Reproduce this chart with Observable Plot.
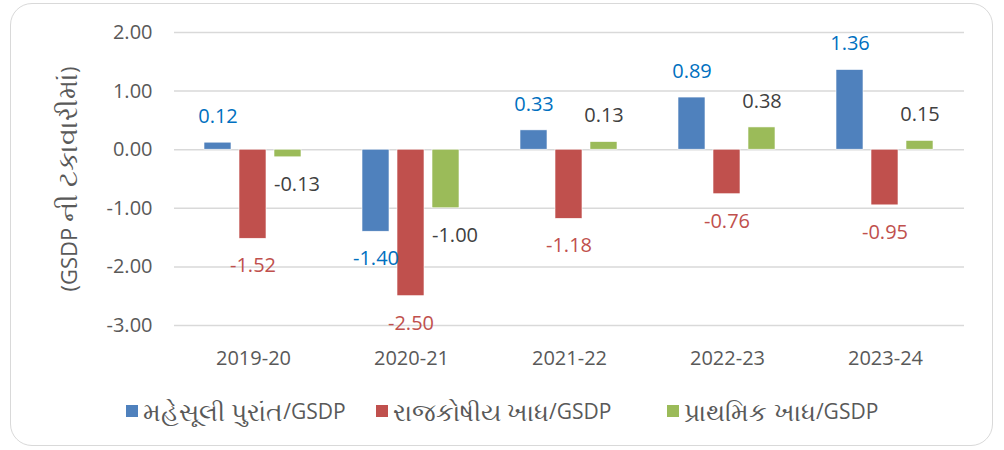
<!DOCTYPE html>
<html>
<head>
<meta charset="utf-8">
<script src="https://cdn.jsdelivr.net/npm/d3@7"></script>
<script src="https://cdn.jsdelivr.net/npm/@observablehq/plot@0.6"></script>
<style>
  body { margin: 0; background: #fff; font-family: "Open Sans", "Noto Sans", sans-serif; }
  #wrap { position: relative; width: 1004px; height: 450px; overflow: hidden; }
  #frame { position: absolute; left: 10px; top: 3px; width: 983px; height: 443px; border: 1.5px solid #d9d9d9; border-radius: 22px; box-sizing: border-box; }
  #chart { position: absolute; left: 0; top: 0; }
  #legend { position: absolute; left: 0; top: 394px; width: 1004px; display: flex; justify-content: center; font-size: 21px; color: #595959; line-height: 34px; }
  .item { display: flex; align-items: center; }
  .item:nth-child(1) { margin-right: 30px; }
  .item:nth-child(2) { margin-right: 56px; }
  .sw { width: 12px; height: 12px; display: inline-block; margin-right: 5px; }
  .guj { font-size: 25px; }
</style>
</head>
<body>
<div id="wrap">
  <div id="frame"></div>
  <div id="chart"></div>
  <div id="legend"></div>
</div>
<script>
const years = ["2019-20", "2020-21", "2021-22", "2022-23", "2023-24"];
const seriesNames = ["મહેસૂલી પુરાંત/GSDP", "રાજકોષીય ખાધ/GSDP", "પ્રાથમિક ખાધ/GSDP"];
const revenueSurplus = [0.12, -1.40, 0.33, 0.89, 1.36];
const fiscalDeficit = [-1.52, -2.50, -1.18, -0.76, -0.95];
const primaryDeficit = [-0.13, -1.00, 0.13, 0.38, 0.15];
const yTicks = [2, 1, 0, -1, -2, -3];
const yTitle = "(GSDP ની ટકાવારીમાં)";
const barColors = ["#4F81BD", "#C0504D", "#9BBB59"];
const labelColors = ["#0070C0", "#C0504D", "#404040"];

const seriesValues = [revenueSurplus, fiscalDeficit, primaryDeficit];
const rows = [];
years.forEach((year, i) => {
  seriesNames.forEach((s, j) => {
    rows.push({year, series: s, idx: j, value: seriesValues[j][i]});
  });
});

// split text into runs of Gujarati script (with inner spaces) and other characters
function runs(str) {
  const out = [];
  const re = /([\u0A80-\u0AFF][\u0A80-\u0AFF\s]*[\u0A80-\u0AFF]|[\u0A80-\u0AFF])|([^\u0A80-\u0AFF]+)/g;
  let m;
  while ((m = re.exec(str))) out.push({text: m[0], guj: !!m[1]});
  return out;
}

const fontFamily = '"Open Sans", "Noto Sans", sans-serif';
const lab = (d) => d.value.toFixed(2);

const chart = Plot.plot({
  width: 1004,
  height: 385,
  marginLeft: 172,
  marginRight: 38,
  marginTop: 32,
  marginBottom: 60,
  style: { fontFamily, fontSize: "20px", color: "#595959", background: "transparent" },
  fx: { domain: years, padding: 0, label: null, axis: "bottom", tickSize: 0, tickPadding: 25 },
  x: { domain: seriesNames, paddingInner: 0.223, paddingOuter: 0.854, axis: null },
  y: {
    domain: [-3, 2], ticks: yTicks, tickFormat: d => d.toFixed(2), tickSize: 0, tickPadding: 22,
    label: yTitle, labelAnchor: "center", labelArrow: "none", labelOffset: 112
  },
  color: { type: "identity" },
  marks: [
    Plot.gridY(yTicks, { stroke: "#d9d9d9", strokeOpacity: 1, strokeWidth: 1.5 }),
    Plot.barY(rows, { fx: "year", x: "series", y: "value", fill: d => barColors[d.idx], stroke: "#ffffff", strokeWidth: 0.6 }),
    Plot.text(rows.filter(d => d.value >= 0), {
      fx: "year", x: "series", y: "value", text: lab,
      fill: d => labelColors[d.idx], dy: -26, fontSize: 20
    }),
    Plot.text(rows.filter(d => d.value < 0 && d.idx !== 2), {
      fx: "year", x: "series", y: "value", text: lab,
      fill: d => labelColors[d.idx], dy: 27, fontSize: 20
    }),
    // negative green labels are nudged right (as the source chart does to avoid overlapping)
    Plot.text(rows.filter(d => d.value < 0 && d.idx === 2), {
      fx: "year", x: "series", y: "value", text: lab,
      fill: d => labelColors[d.idx], dy: 27, dx: 9, fontSize: 20
    })
  ]
});
document.getElementById("chart").appendChild(chart);

// enlarge the Gujarati glyphs of the y-axis title
const yl = chart.querySelector('[aria-label="y-axis label"] text');
if (yl) {
  const txt = yl.textContent;
  yl.textContent = "";
  runs(txt).forEach(r => {
    const ts = document.createElementNS("http://www.w3.org/2000/svg", "tspan");
    ts.textContent = r.text;
    ts.setAttribute("font-size", r.guj ? "27px" : "22px");
    yl.appendChild(ts);
  });
}

const legend = document.getElementById("legend");
seriesNames.forEach((s, j) => {
  const item = document.createElement("div");
  item.className = "item";
  const sw = document.createElement("span");
  sw.className = "sw";
  sw.style.background = barColors[j];
  item.appendChild(sw);
  runs(s).forEach(r => {
    const t = document.createElement("span");
    if (r.guj) t.className = "guj";
    t.textContent = r.text;
    item.appendChild(t);
  });
  legend.appendChild(item);
});
</script>
</body>
</html>
